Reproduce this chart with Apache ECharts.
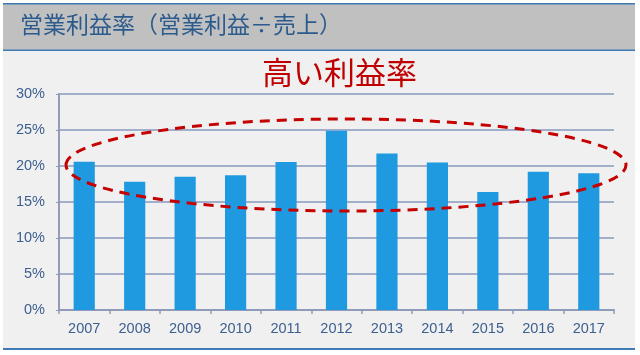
<!DOCTYPE html>
<html><head><meta charset="utf-8">
<style>html,body{margin:0;padding:0;background:#fff}#c{width:640px;height:355px}</style>
<script src="https://cdn.jsdelivr.net/npm/echarts@6/dist/echarts.min.js"></script>
</head><body><div id="c"></div>
<script>
var categories = ['2007','2008','2009','2010','2011','2012','2013','2014','2015','2016','2017'];
var values = [20.6, 17.8, 18.5, 18.7, 20.55, 24.9, 21.75, 20.5, 16.4, 19.2, 19.0];
var yTicks = [0, 5, 10, 15, 20, 25, 30];
var titleText = '営業利益率（営業利益÷売上）';
var noteText = '高い利益率';

var chart = echarts.init(document.getElementById('c'), null, {renderer:'canvas'});
chart.setOption({
  backgroundColor: '#ffffff',
  animation: false,
  grid: {left: 59, right: 26, top: 94, bottom: 45, containLabel: false},
  xAxis: {
    type: 'category', data: categories,
    axisLine: {lineStyle: {color: '#8f9bb8', width: 2}},
    axisTick: {show: true, alignWithLabel: false, length: 4, lineStyle: {color: '#8f9bb8', width: 1.5}},
    axisLabel: {color: '#3d5f8f', fontSize: 14.5, fontFamily: 'Liberation Sans, Arial, sans-serif', margin: 11}
  },
  yAxis: {
    type: 'value', min: yTicks[0], max: yTicks[yTicks.length-1], interval: 5,
    axisLine: {show: true, lineStyle: {color: '#8f9bb8', width: 2}},
    axisTick: {show: true, length: 3, lineStyle: {color: '#8f9bb8'}},
    splitLine: {lineStyle: {color: '#a3aecb', width: 2}},
    axisLabel: {color: '#3d5f8f', fontSize: 14.5, fontFamily: 'Liberation Sans, Arial, sans-serif', margin: 14,
      formatter: function(v){ return v + '%'; }}
  },
  series: [{
    type: 'bar', data: values, barWidth: '42%',
    itemStyle: {color: '#1f9ae0'}, z: 3
  }],
  graphic: [
    {type: 'rect', z: -10, silent: true, shape: {x: 3, y: 3, width: 632, height: 346}, style: {fill: '#f0f0f0'}},
    {type: 'rect', z: -9, silent: true, shape: {x: 3, y: 3, width: 632, height: 47}, style: {fill: '#c0c0c0'}},
    {type: 'rect', z: -8, silent: true, shape: {x: 3, y: 3, width: 632, height: 1.5}, style: {fill: '#3f7ab5'}},
    {type: 'rect', z: -8, silent: true, shape: {x: 3, y: 49.5, width: 632, height: 1.5}, style: {fill: '#3f7ab5'}},
    {type: 'rect', z: -8, silent: true, shape: {x: 3, y: 348, width: 632, height: 2}, style: {fill: '#3f7ab5'}},
    {type: 'text', z: 10, left: 20, top: 13, style: {text: titleText, fill: '#2b5b8c', fontSize: 23,
      fontFamily: 'Noto Sans CJK JP, sans-serif'}},
    {type: 'text', z: 10, left: 262, top: 57, style: {text: noteText, fill: '#c00000', fontSize: 31,
      fontFamily: 'Noto Sans CJK JP, sans-serif'}},
    {type: 'ellipse', z: 100, silent: true, shape: {cx: 346, cy: 165, rx: 280, ry: 46},
      style: {fill: 'none', stroke: '#c40000', lineWidth: 3, lineDash: [10, 7]}}
  ]
});
</script></body></html>
